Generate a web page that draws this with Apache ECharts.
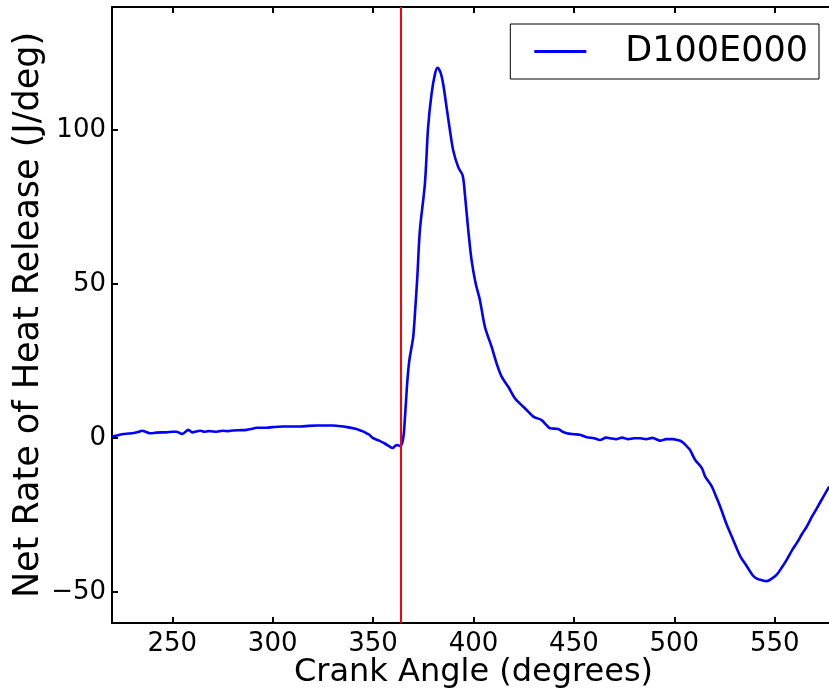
<!DOCTYPE html>
<html>
<head>
<meta charset="utf-8">
<title>Net Rate of Heat Release</title>
<script src="https://cdn.jsdelivr.net/npm/echarts@6/dist/echarts.min.js"></script>
<style>
  html, body { margin: 0; padding: 0; background: #fff; }
  #chart { width: 829px; height: 690px; }
</style>
</head>
<body>
<div id="chart"></div>
<script>
// values
const seriesName = 'D100E000'
const tdcAngle = 364
const crankAngle = [
  220, 222, 225, 228, 230, 233, 235, 237, 239, 242, 245, 247, 250, 252, 255, 258, 260, 262, 264, 266,
  268, 270, 272, 275, 278, 280, 283, 287, 290, 292, 295, 297, 300, 305, 310, 314, 318, 322, 326, 330,
  334, 337, 340, 343, 345, 347, 348, 350, 353, 356, 358, 359.7, 361, 362, 363.5, 365, 366, 367, 368, 369,
  370, 371, 372, 373.3, 375.8, 377.4, 379.1, 380.8, 382.1, 383.6, 384.9, 386.6, 388.3, 389.9, 392.4, 394.6, 395.7, 397.4, 399, 401,
  403.2, 405.7, 409, 411.5, 414, 417.3, 420.6, 424.8, 427, 429.8, 433.9, 436, 438.1, 442.2, 444, 446.4, 450, 453, 456.4, 460,
  463, 466, 468, 471, 474, 477, 480, 483, 486, 489, 493, 496, 499.5, 501, 503.7, 506, 507.8, 510.3, 513.7, 515.3,
  518.7, 520.5, 522.8, 526.1, 528, 530.3, 533, 536.1, 539, 541.1, 543.5, 546.1, 548.5, 551, 553.5, 556, 558.5, 561, 563.5, 566,
  568.5, 571, 574.3, 577.1
]
const heatRelease = [
  0.5, 0.8, 1.3, 1.5, 1.6, 2.0, 2.4, 2.0, 1.6, 1.8, 1.9, 1.9, 2.1, 2.1, 1.4, 2.7, 1.9, 2.2, 2.4, 2.1,
  2.3, 2.2, 2.1, 2.4, 2.3, 2.5, 2.6, 2.7, 3.1, 3.4, 3.4, 3.4, 3.6, 3.8, 3.8, 3.8, 4.0, 4.1, 4.1, 4.1,
  3.9, 3.6, 3.2, 2.7, 2.2, 1.5, 1.2, 0.0, -0.8, -1.8, -2.6, -3.2, -2.5, -2.2, -2.6, 0, 8, 18, 25, 29,
  33, 42, 52, 67.5, 82.6, 100.9, 111.7, 118.2, 120.3, 118.7, 115, 107.4, 99.8, 93.4, 88, 85.3, 79.3, 67.5, 58, 50.5,
  44.8, 36.1, 29.7, 24.3, 20, 16.7, 13, 10.2, 8.8, 7, 5.9, 4.5, 3.2, 3.0, 2.2, 1.6, 1.3, 1.1, 0.3, 0,
  -0.6, 0.2, 0, -0.3, 0.2, -0.3, 0, 0, -0.3, 0.1, -0.8, -0.3, -0.3, -0.5, -1.1, -2.5, -3.8, -7, -9.7, -12.4,
  -15.7, -18.5, -22.2, -28.1, -31, -34.6, -38.5, -41.6, -44.5, -45.6, -46.1, -46.4, -45.6, -44.3, -42, -39.4, -36.5, -34, -31.2, -28.6,
  -25.5, -22.7, -18.9, -15.7
]
const xRange = [220, 580]
const yRange = [-60, 140]

const font = 'DejaVu Sans'
const points = crankAngle.map((a, i) => [a, heatRelease[i]])
const minus = v => String(v).replace('-', '\u2212')

const spine = { show: true, onZero: false, lineStyle: { color: '#000', width: 2 } }
const ticks = { show: true, inside: true, length: 6, lineStyle: { color: '#000', width: 2 } }

const chart = echarts.init(document.getElementById('chart'))
chart.setOption({
  animation: false,
  backgroundColor: '#fff',
  // right edge of the plot runs past the window, as in the cropped original
  grid: { left: 112, top: 7, right: -6, bottom: 67, containLabel: false, outerBoundsMode: 'none' },
  legend: {
    data: [{ name: seriesName, icon: 'rect' }],
    right: 10,
    top: 24,
    itemWidth: 52,
    itemHeight: 3,
    padding: [10, 11, 10, 24],
    borderColor: '#000',
    borderWidth: 1,
    textStyle: { fontFamily: font, fontSize: 35, color: '#000', padding: [0, 0, 0, 34] }
  },
  xAxis: [
    {
      type: 'value', position: 'bottom',
      min: xRange[0], max: xRange[1], minInterval: 50, maxInterval: 50, splitNumber: 7,
      name: 'Crank Angle (degrees)', nameLocation: 'middle', nameGap: 34, nameMoveOverlap: false,
      nameTextStyle: { fontFamily: font, fontSize: 32, color: '#000' },
      axisLine: spine, axisTick: ticks, splitLine: { show: false },
      axisLabel: { fontFamily: font, fontSize: 26, color: '#000', margin: 8, showMinLabel: false, showMaxLabel: false }
    },
    {
      type: 'value', position: 'top',
      min: xRange[0], max: xRange[1], minInterval: 50, maxInterval: 50, splitNumber: 7,
      axisLine: spine, axisTick: ticks, splitLine: { show: false }, axisLabel: { show: false }
    }
  ],
  yAxis: [
    {
      type: 'value', position: 'left',
      min: yRange[0], max: yRange[1], minInterval: 50, maxInterval: 50, splitNumber: 4,
      name: 'Net Rate of Heat Release (J/deg)', nameLocation: 'middle', nameGap: 66, nameMoveOverlap: false,
      nameTextStyle: { fontFamily: font, fontSize: 35, color: '#000' },
      axisLine: spine, axisTick: ticks, splitLine: { show: false },
      axisLabel: { fontFamily: font, fontSize: 26, color: '#000', margin: 6, showMinLabel: false, showMaxLabel: false, formatter: minus }
    },
    {
      type: 'value', position: 'right',
      min: yRange[0], max: yRange[1], minInterval: 50, maxInterval: 50, splitNumber: 4,
      axisLine: spine, axisTick: ticks, splitLine: { show: false }, axisLabel: { show: false }
    }
  ],
  series: [
    {
      name: seriesName,
      type: 'line',
      data: points,
      symbol: 'none',
      smooth: 0.3,
      clip: true,
      lineStyle: { color: '#0000ff', width: 2.6 },
      itemStyle: { color: '#0000ff' },
      markLine: {
        silent: true,
        symbol: ['none', 'none'],
        label: { show: false },
        lineStyle: { color: '#ff0000', width: 2, type: 'solid' },
        data: [{ xAxis: tdcAngle }]
      }
    }
  ]
})
</script>
</body>
</html>
